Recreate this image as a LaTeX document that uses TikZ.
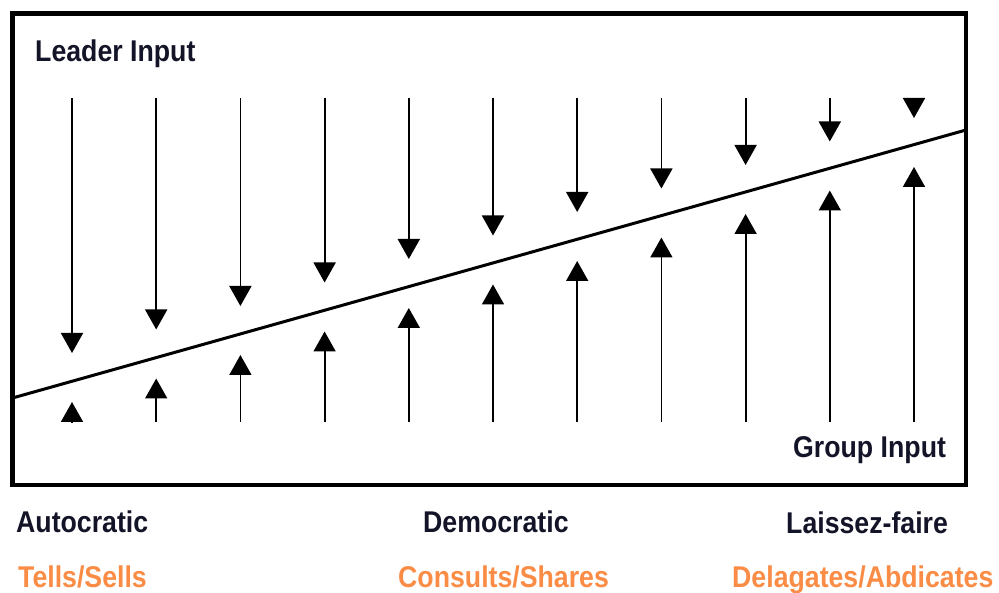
\documentclass[tikz,border=0pt]{standalone}
\usepackage{fontspec}
\setmainfont[FakeStretch=0.89]{Liberation Sans}
\usetikzlibrary{arrows.meta}
\definecolor{ink}{RGB}{20,20,40}
\definecolor{tone}{RGB}{250,140,70}
\begin{document}
\begin{tikzpicture}[x=1pt,y=-1pt,
  caption/.style={anchor=base west,inner sep=0pt,font=\fontsize{30}{30}\selectfont\bfseries,text=ink},
  subcaption/.style={caption,text=tone},
  flow/.style={line width=1.8pt,-{Triangle[width=22pt,length=20pt]}}]
\useasboundingbox (0,0) rectangle (999,593);
% frame and the dividing line between leader and group input
\draw[line width=4.5pt] (12.5,13.5) rectangle (966,485);
\coordinate (lo) at (12.5,398);
\coordinate (hi) at (966,130);
\draw[line width=3pt] (lo) -- (hi);
% leader arrows from above, group arrows from below
\foreach \i in {0,...,10}{
  \pgfmathsetmacro\xx{72+84.2*\i}
  \pgfmathsetmacro\dn{353-23.5*\i}
  \pgfmathsetmacro\up{402-23.5*\i}
  \coordinate (lt\i) at (\xx,98);
  \coordinate (ld\i) at (\xx,\dn);
  \coordinate (gb\i) at (\xx,422);
  \coordinate (gu\i) at (\xx,\up);
  \draw[flow] (lt\i) -- (ld\i);
  \draw[flow] (gb\i) -- (gu\i);
}
% labels
\node[caption] (leader) at (35,62) {Leader Input};
\node[caption] (group) at (793,457) {Group Input};
\node[caption] (auto) at (16,532) {Autocratic};
\node[caption] (demo) at (423,532) {Democratic};
\node[caption] (laissez) at (786,533) {Laissez-faire};
\node[subcaption] (tells) at (18,587) {Tells/Sells};
\node[subcaption] (consults) at (398,587) {Consults/Shares};
\node[subcaption] (delegates) at (732,587) {Delagates/Abdicates};
\end{tikzpicture}
\end{document}
